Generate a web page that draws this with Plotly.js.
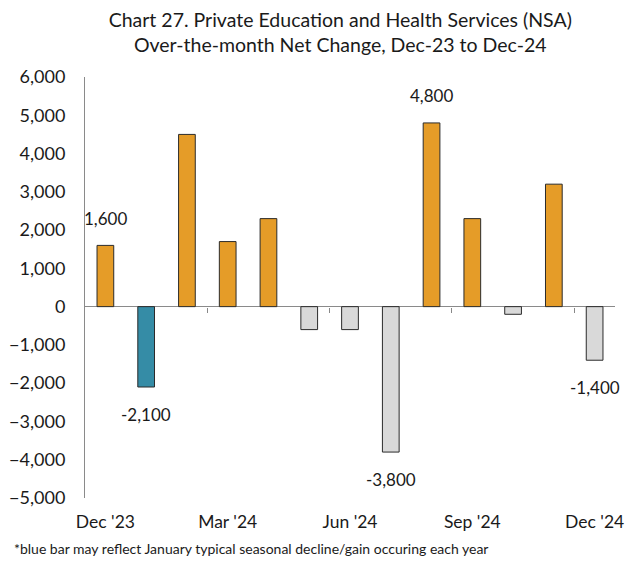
<!DOCTYPE html>
<html>
<head>
<meta charset="utf-8">
<script src="https://cdn.plot.ly/plotly-3.0.1.min.js"></script>
<style>html,body{margin:0;padding:0;background:#fff;}#chart{width:636px;height:562px;}</style>
</head>
<body>
<div id="chart"></div>
<script>
const months = ["Dec '23","Jan '24","Feb '24","Mar '24","Apr '24","May '24","Jun '24","Jul '24","Aug '24","Sep '24","Oct '24","Nov '24","Dec '24"];
const netChange = [1600, -2100, 4500, 1700, 2300, -600, -600, -3800, 4800, 2300, -200, 3200, -1400];
const labeledMonths = ["Dec '23","Jan '24","Jul '24","Aug '24","Dec '24"];
const seasonalMonth = "Jan '24";
const tickMonths = ["Dec '23","Mar '24","Jun '24","Sep '24","Dec '24"];
const quarterBoundaries = [2.5, 5.5, 8.5, 11.5];

const idx = months.map((m, i) => i);
const colors = months.map((m, i) => m === seasonalMonth ? '#358CA6' : (netChange[i] >= 0 ? '#E59C28' : '#D9D9D9'));

const font = "Lato, 'Open Sans', sans-serif";

const trace = {
  type: 'bar',
  x: idx,
  y: netChange,
  width: 0.41,
  marker: {color: colors, line: {color: '#2b2b2b', width: 1}},
  hoverinfo: 'x+y'
};

const fmt = v => (v < 0 ? '-' : '') + Math.abs(v).toLocaleString('en-US');
const annotations = labeledMonths.map(m => {
  const i = months.indexOf(m);
  const v = netChange[i];
  return {x: i, y: v, xref: 'x', yref: 'y', text: fmt(v), showarrow: false,
    yshift: v >= 0 ? 27 : -27, font: {family: font, size: 17, color: '#1a1a1a'}};
});
annotations.push({xref: 'paper', yref: 'paper', x: -0.138, y: -0.121, xanchor: 'left', yanchor: 'middle',
  text: '*blue bar may reflect January typical seasonal decline/gain occuring each year', showarrow: false,
  font: {family: font, size: 14, color: '#1a1a1a'}});

const layout = {
  width: 636, height: 562,
  margin: {l: 85, r: 21, t: 77, b: 64},
  paper_bgcolor: '#fff', plot_bgcolor: '#fff',
  showlegend: false,
  title: {text: 'Chart 27. Private Education and Health Services (NSA)<br>Over-the-month Net Change, Dec-23 to Dec-24',
    x: 0.535, xanchor: 'center', yref: 'container', y: 0.952, yanchor: 'top',
    font: {family: font, size: 19.5, color: '#1a1a1a'}},
  xaxis: {
    range: [-0.5, 12.5],
    tickvals: tickMonths.map(m => months.indexOf(m)),
    ticktext: tickMonths,
    ticks: '', showline: false, showgrid: false, zeroline: false,
    tickfont: {family: font, size: 17.5, color: '#1a1a1a'},
    ticklabelstandoff: 11
  },
  xaxis2: {
    overlaying: 'x', matches: 'x', anchor: 'free', position: 5/11,
    tickvals: quarterBoundaries, showticklabels: false,
    ticks: 'outside', ticklen: 5, tickcolor: '#888', tickwidth: 1,
    showline: false, showgrid: false, zeroline: false
  },
  yaxis: {
    range: [-5000, 6000], dtick: 1000, tickformat: ',',
    showgrid: false, zeroline: true, zerolinecolor: '#8a8a8a', zerolinewidth: 1,
    showline: true, linecolor: '#8a8a8a', linewidth: 1,
    ticks: '', ticklabelstandoff: 15,
    tickfont: {family: font, size: 18, color: '#1a1a1a'}
  },
  annotations: annotations
};

const tickTrace = {type: 'bar', x: [], y: [], xaxis: 'x2', yaxis: 'y', hoverinfo: 'skip'};

Plotly.newPlot('chart', [trace, tickTrace], layout, {displayModeBar: false, staticPlot: true});
</script>
</body>
</html>
